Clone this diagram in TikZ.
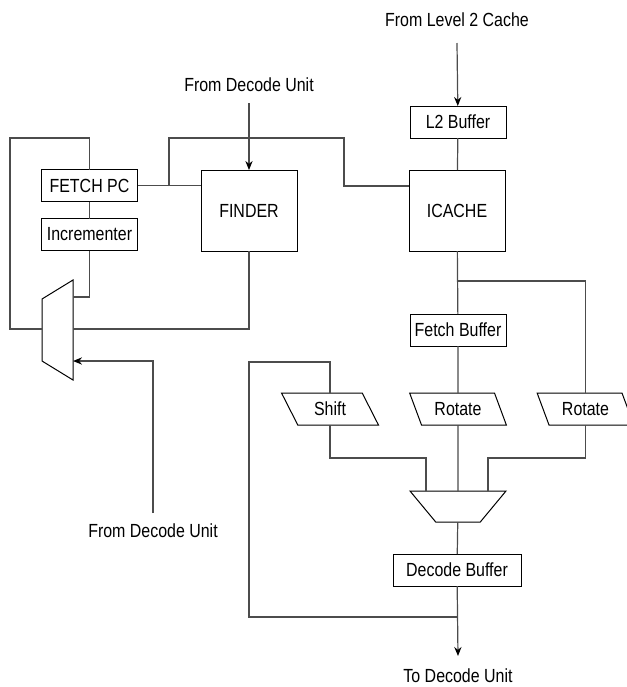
\documentclass[tikz,border=0pt]{standalone}
\usepackage{fontspec}
\setmainfont[FakeStretch=0.84]{Liberation Sans}
\usetikzlibrary{arrows.meta, positioning, shapes.geometric, calc}

\tikzset{
  unitbox/.style={draw=black, line width=0.5pt, inner sep=0pt, outer sep=0pt,
    minimum width=48pt, minimum height=16pt, font=\fontsize{9.5}{11}\selectfont},
  shifter/.style={trapezium, trapezium left angle=120, trapezium right angle=60,
    trapezium stretches=true, draw=black, line width=0.5pt, inner sep=0pt, outer sep=0pt,
    minimum width=48.5pt, minimum height=16pt, font=\fontsize{9.5}{11}\selectfont},
  selector/.style={trapezium, trapezium left angle=60, trapezium right angle=60,
    trapezium stretches=true, draw=black, line width=0.5pt, inner sep=1pt, outer sep=0pt},
  wire/.style={line width=0.6pt, black!70},
  feed/.style={wire, -{Stealth[length=4.5pt, width=3.6pt, color=black]}},
  lbl/.style={font=\fontsize{9.5}{11}\selectfont, inner sep=1pt}
}

\begin{document}
\begin{tikzpicture}[x=0.5pt, y=-0.5pt]
\useasboundingbox (0,0) rectangle (627,687);

% === Fetch side ===
\node[unitbox] (fetchpc) at (89.5,185.5) {FETCH PC};
\node[unitbox] (inc) at (89.5,234.5) {Incrementer};
\node[unitbox, minimum height=40.5pt] (finder) at (249,210.5) {FINDER};
% PC select mux (long side faces right)
\node[inner sep=0pt, outer sep=0pt, minimum width=15.5pt, minimum height=50pt] (pcmux) at (57.5,330) {};
\draw[black, line width=0.5pt] (pcmux.north east) -- (pcmux.south east)
  -- ($(pcmux.south west)+(0,-19)$) -- ($(pcmux.north west)+(0,19)$) -- cycle;

% === Cache side ===
\node[unitbox] (l2buf) at (458,122) {L2 Buffer};
\node[unitbox, minimum height=40.5pt] (icache) at (457,210.5) {ICACHE};
\node[unitbox] (fetchbuf) at (458,330) {Fetch Buffer};

% === Align stage ===
\node[shifter] (shift) at (330,409) {Shift};
\node[shifter] (rotmid) at (458,409) {Rotate};
\node[shifter] (rotright) at (585.5,409) {Rotate};
\node[selector, trapezium left angle=120, trapezium right angle=120,
      minimum width=48pt, minimum height=15.5pt] (alignmux) at (458,506.5) {};
\node[unitbox, minimum width=64pt] (decbuf) at (457,570) {Decode Buffer};

% Labels and free ends
\node[lbl] (finderlbl) at (249,85) {From Decode Unit};
\coordinate (finderin) at (249,103);
\node[lbl] (l2lbl) at (457,20) {From Level 2 Cache};
\coordinate (l2in) at (457,43);
\node[lbl] (redirlbl) at (153,531) {From Decode Unit};
\coordinate (redirin) at (153,513);
\node[lbl] (outlbl) at (458,676) {To Decode Unit};
\coordinate (decout) at (458,656);
\coordinate (jfetch) at (169,186);
\coordinate (jcache) at (457,281);
\coordinate (jout) at (458,617);

% === Wires: fetch loop ===
\draw[wire] (pcmux.west |- 0,329) -- (10,329) |- (fetchpc.north |- 0,138) -- (fetchpc.north);
\draw[wire] (fetchpc) -- (inc);
\draw[wire] (inc.south) |- (pcmux.east |- 0,297);
\draw[wire] (finder.south) |- (pcmux.east |- 0,329);
\draw[feed] (redirin) |- (pcmux.east |- 0,361);
\draw[feed] (finderin) -- (finder);
\draw[wire] (fetchpc.east) -- (fetchpc.east -| finder.west);
\draw[wire] (jfetch) |- (344,138) |- (icache.west |- jfetch);

% === Wires: cache to decode ===
\draw[feed] (l2in) -- (l2buf);
\draw[wire] (l2buf) -- (icache);
\draw[wire] (icache) -- (fetchbuf);
\draw[wire] (jcache) -| (rotright);
\draw[wire] (fetchbuf) -- (rotmid);
\draw[wire] (shift.north) |- (249,362) |- (jout);
\draw[wire] (shift.south) |- (426,458) -- (426,0 |- alignmux.north);
\draw[wire] (rotmid) -- (alignmux);
\draw[wire] (rotright.south) |- (488,458) -- (488,0 |- alignmux.north);
\draw[wire] (alignmux) -- (decbuf);
\draw[feed] (decbuf) -- (decout);

\end{tikzpicture}
\end{document}
